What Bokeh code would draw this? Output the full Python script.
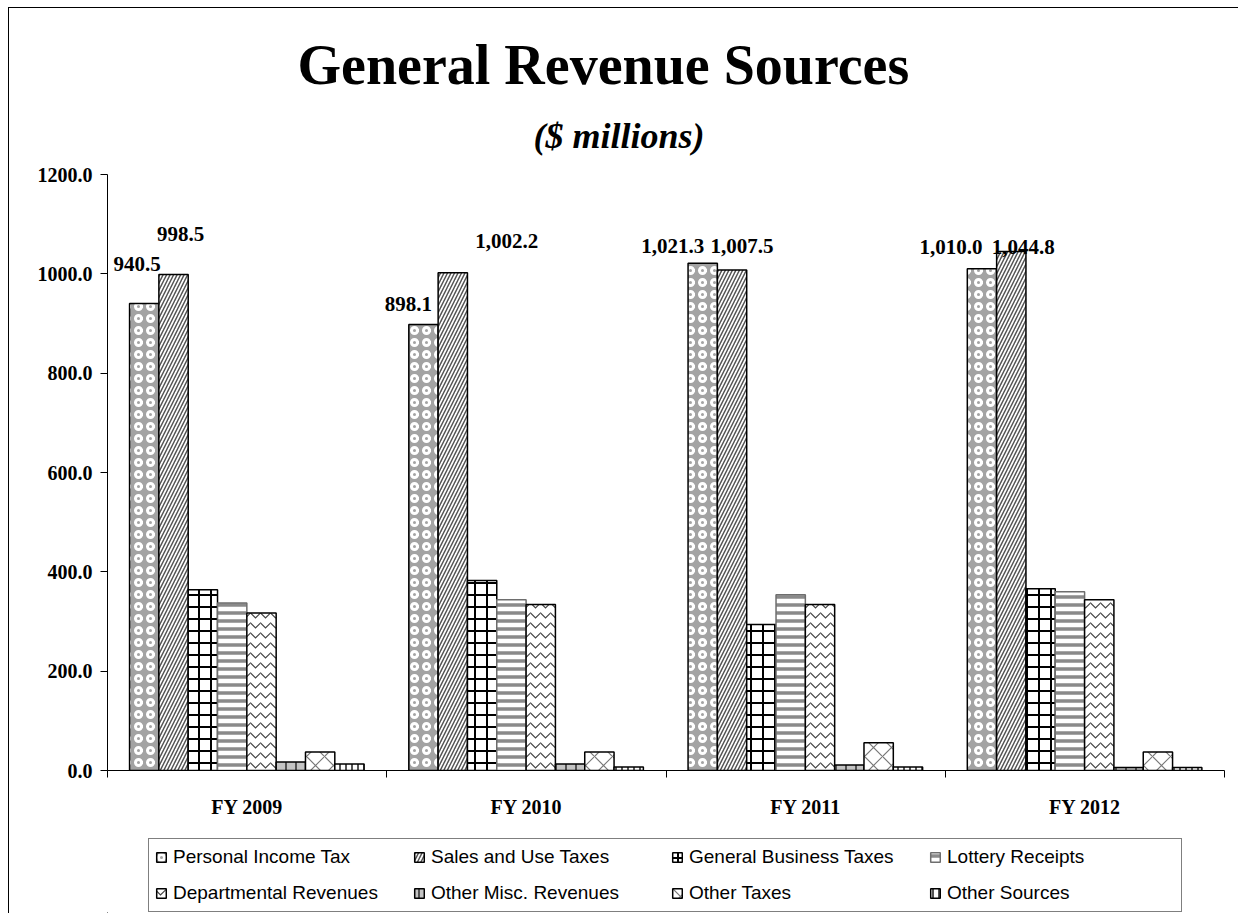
from bokeh.plotting import figure
from bokeh.layouts import column
from bokeh.models import (Range1d, FixedTicker, PrintfTickFormatter, Legend, LegendItem,
                          Title, LabelSet, ColumnDataSource, InlineStyleSheet)
from bokeh.embed import file_html
from bokeh.resources import INLINE

years = ["FY 2009", "FY 2010", "FY 2011", "FY 2012"]
series_names = ["Personal Income Tax", "Sales and Use Taxes", "General Business Taxes",
                "Lottery Receipts", "Departmental Revenues", "Other Misc. Revenues",
                "Other Taxes", "Other Sources"]
personal_income = [940.5, 898.1, 1021.3, 1010.0]
sales_use = [998.5, 1002.2, 1007.5, 1044.8]
general_business = [364.0, 382.5, 294.0, 366.0]
lottery = [337.0, 344.0, 354.0, 360.0]
departmental = [317.0, 334.0, 334.0, 344.0]
other_misc = [17.0, 13.0, 11.0, 6.0]
other_taxes = [37.0, 37.0, 56.0, 37.0]
other_sources = [13.0, 7.0, 7.0, 6.0]
y_ticks = [0, 200, 400, 600, 800, 1000, 1200]

all_series = [personal_income, sales_use, general_business, lottery,
              departmental, other_misc, other_taxes, other_sources]

# layout of bars within each category slot
pad = 0.079
bw = 0.105

styles = [
    dict(fill_color="#a3a3a3", hatch_pattern="o", hatch_color="white", hatch_scale=12, hatch_weight=3, line_color="black"),
    dict(fill_color="white", hatch_pattern="/", hatch_color="#555555", hatch_scale=7, hatch_weight=1.5, line_color="black"),
    dict(fill_color="white", hatch_pattern="+", hatch_color="black", hatch_scale=12, hatch_weight=2, line_color="black"),
    dict(fill_color="white", hatch_pattern="-", hatch_color="#8a8a8a", hatch_scale=8, hatch_weight=3.5, line_color="#6e6e6e"),
    dict(fill_color="white", hatch_pattern="v", hatch_color="#444444", hatch_scale=10, hatch_weight=1.2, line_color="black"),
    dict(fill_color="#c4c4c4", hatch_pattern="|", hatch_color="#555555", hatch_scale=10, hatch_weight=2, line_color="black"),
    dict(fill_color="white", hatch_pattern="x", hatch_color="#777777", hatch_scale=18, hatch_weight=1.2, line_color="black"),
    dict(fill_color="white", hatch_pattern="|", hatch_color="#555555", hatch_scale=6, hatch_weight=2, line_color="black"),
]

p = figure(frame_width=1117, frame_height=596, output_backend="svg", toolbar_location=None,
           x_range=Range1d(0, 4), y_range=Range1d(0, 1200),
           min_border_left=107, min_border_right=14, min_border_top=174, min_border_bottom=67,
           title="General Revenue Sources")

p.title.text_font = "Liberation Serif"
p.title.text_font_size = "56px"
p.title.text_font_style = "bold"
p.title.text_color = "black"
p.title.align = "left"
p.title.offset = 190
p.title.standoff = 0

sub_title = Title(text="($ millions)", text_font="Liberation Serif",
                  text_font_size="36px", text_font_style="bold italic", text_color="black",
                  align="left", offset=426, standoff=37)
p.add_layout(sub_title, "above")

for k, (vals, st) in enumerate(zip(all_series, styles)):
    xs = [i + pad + bw * (k + 0.5) for i in range(len(years))]
    src = ColumnDataSource(dict(x=xs, top=vals))
    p.vbar(x="x", top="top", width=bw, source=src, line_width=1.5, **st)

# value labels on the two tallest series
label_dx = [[-7, -15, -30, -31], [7, 54, 10, 12]]
label_dy = [[39, 20, 17, 22], [41, 32, 24, 5]]
for k, vals in enumerate([personal_income, sales_use]):
    xs = [i + pad + bw * (k + 0.5) for i in range(len(years))]
    src = ColumnDataSource(dict(x=xs, y=vals, text=["{:,.1f}".format(v) for v in vals],
                                dx=label_dx[k], dy=label_dy[k]))
    ls = LabelSet(x="x", y="y", text="text", x_offset="dx", y_offset="dy", source=src,
                  text_font="Liberation Serif", text_font_size="21px", text_font_style="bold",
                  text_align="center", text_baseline="middle", text_color="black")
    p.add_layout(ls)

p.xgrid.visible = False
p.ygrid.visible = False
p.outline_line_color = None

# y axis
p.yaxis.ticker = FixedTicker(ticks=y_ticks)
p.yaxis.formatter = PrintfTickFormatter(format="%.1f")
p.yaxis.major_label_text_font = "Liberation Serif"
p.yaxis.major_label_text_font_size = "20px"
p.yaxis.major_label_text_font_style = "bold"
p.yaxis.major_label_text_color = "black"
p.yaxis.major_tick_out = 7
p.yaxis.major_tick_in = 0
p.yaxis.minor_tick_out = 0
p.yaxis.minor_tick_in = 0
p.yaxis.major_label_standoff = 8
p.yaxis.axis_line_color = "black"
p.yaxis.major_tick_line_color = "black"
p.yaxis.axis_label = None

# x axis: labels centred in slots, tick marks between slots
p.xaxis.ticker = FixedTicker(ticks=[i + 0.5 for i in range(len(years))],
                             minor_ticks=list(range(len(years) + 1)))
p.xaxis.major_label_overrides = {i + 0.5: y for i, y in enumerate(years)}
p.xaxis.major_tick_out = 0
p.xaxis.major_tick_in = 0
p.xaxis.minor_tick_out = 7
p.xaxis.minor_tick_in = 0
p.xaxis.minor_tick_line_color = "black"
p.xaxis.major_label_standoff = 18
p.xaxis.major_label_text_font = "Liberation Serif"
p.xaxis.major_label_text_font_size = "20px"
p.xaxis.major_label_text_font_style = "bold"
p.xaxis.major_label_text_color = "black"
p.xaxis.axis_line_color = "black"
p.xaxis.axis_label = None

# legend strip below the chart (its own canvas so nothing clips it);
# proxy bars sit outside the visible ranges and only supply the swatch styles
lg = figure(width=1238, height=76, output_backend="svg", toolbar_location=None,
            x_axis_type=None, y_axis_type=None, x_range=Range1d(0, 1), y_range=Range1d(1, 2),
            min_border=0, title=None)
lg.outline_line_color = None
lg.xgrid.visible = False
lg.ygrid.visible = False
items = []
for name, st in zip(series_names, styles):
    r = lg.vbar(x=[-5], top=[-5], width=0.1, line_width=1.5, **st)
    items.append(LegendItem(label=name, renderers=[r]))

ncols = 4
nrows = 2
ordered = [items[r * ncols + c] for c in range(ncols) for r in range(nrows)]
legend = Legend(items=ordered, ncols=ncols, location=(41, 1),
                label_text_font="Liberation Sans", label_text_font_size="19px",
                label_text_color="black",
                glyph_width=12, glyph_height=12, label_standoff=6, label_width=228,
                label_height=24, spacing=12, padding=6, margin=0,
                border_line_color="black", border_line_width=1,
                background_fill_color="white", background_fill_alpha=1.0)
lg.add_layout(legend)

page = column(p, lg, spacing=0)

# outer chart border (left and top edges visible; the rest runs off the page)
page.stylesheets = [InlineStyleSheet(css="""
:host { position: relative; }
:host::after { content: ""; position: absolute; left: 8px; top: 7px; right: 0; bottom: 0;
  border-left: 1.5px solid black; border-top: 1.5px solid black; pointer-events: none; }
""")]

open("out.html", "w").write(file_html(page, INLINE))
